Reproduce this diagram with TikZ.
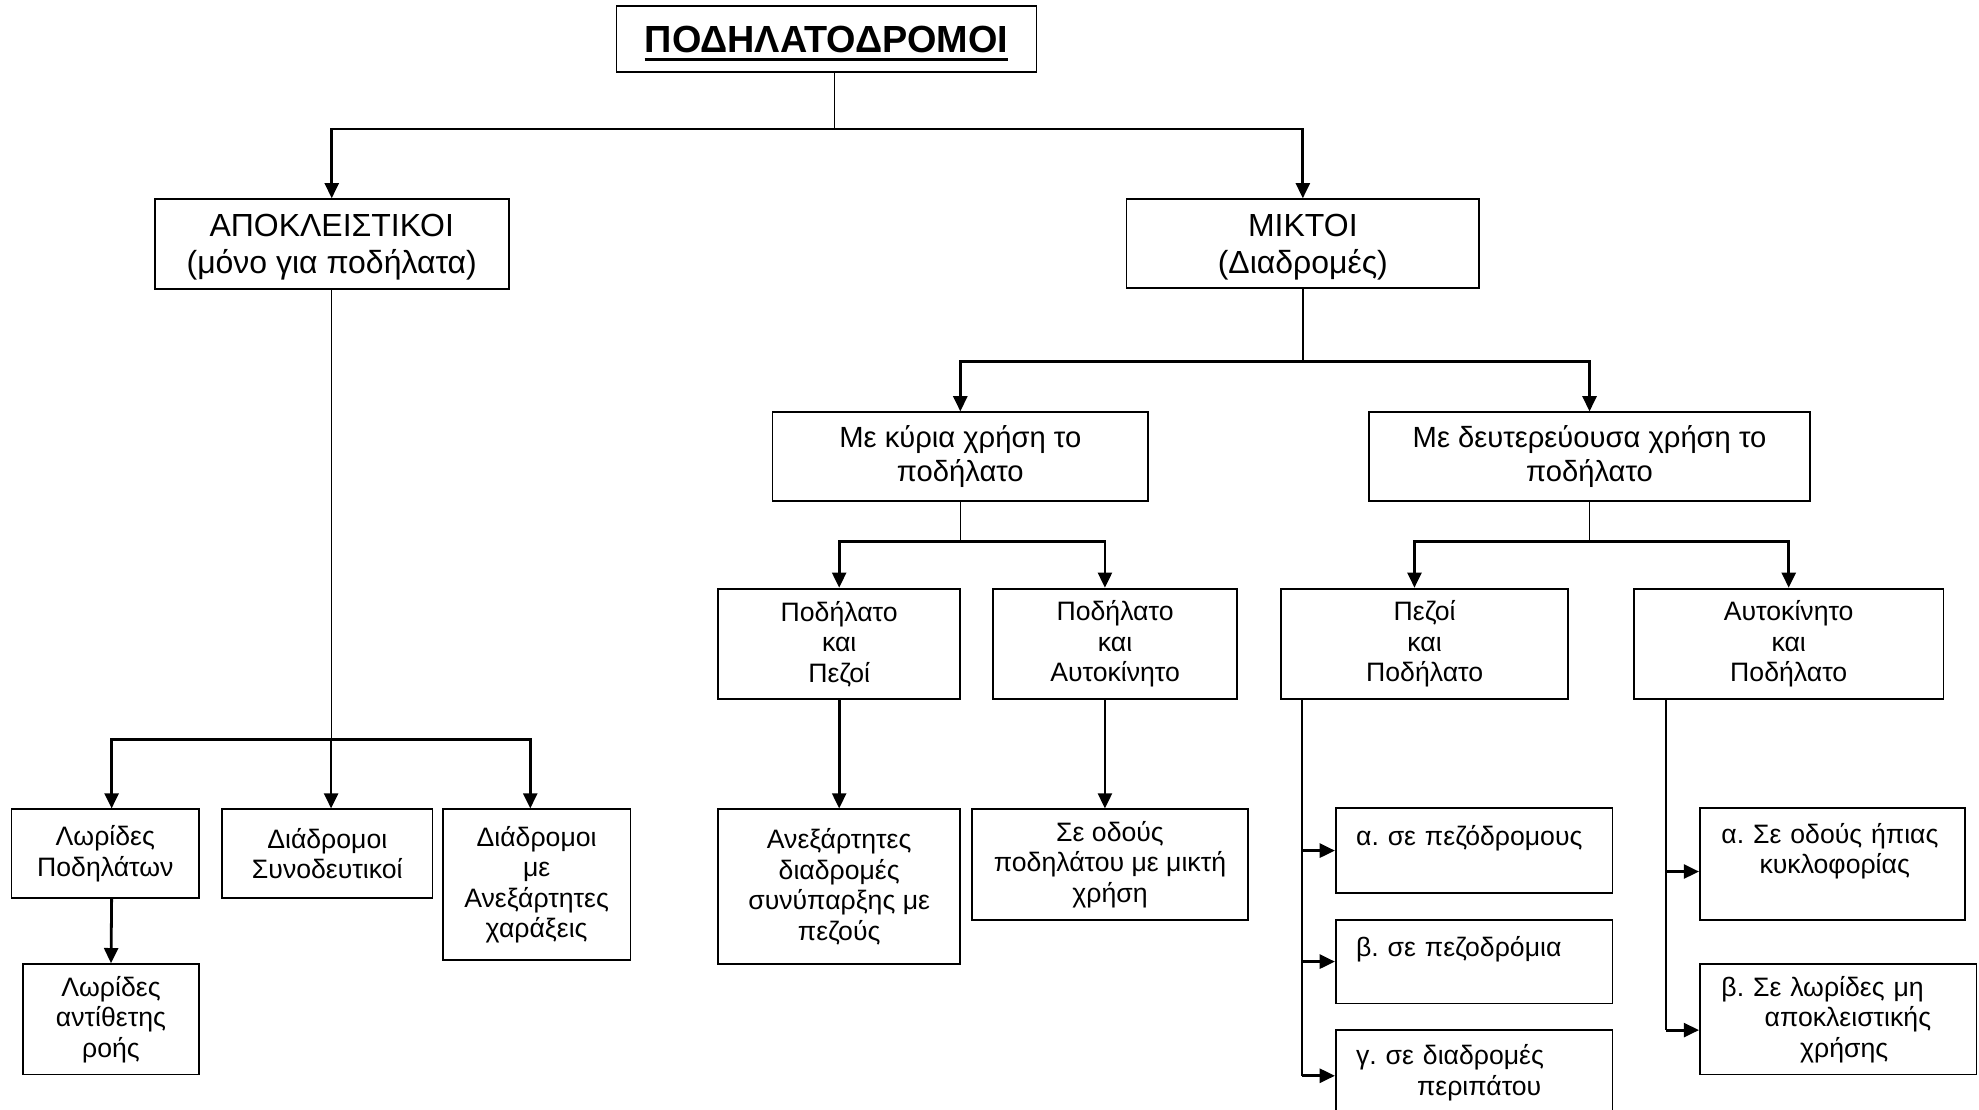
\documentclass[tikz,border=0pt]{standalone}
\usepackage{fontspec}
\setmainfont{Liberation Sans}
\usetikzlibrary{positioning}
\usetikzlibrary{arrows.meta}
\frenchspacing
% thick underline for the title
\newcommand{\ulthick}[1]{\leavevmode\setbox0=\hbox{#1}\rlap{\raisebox{-3.2pt}{\rule{\wd0}{1.2pt}}}\box0}

\begin{document}
\begin{tikzpicture}[x=0.5pt, y=-0.5pt,
    box/.style={draw, rectangle, line width=0.7pt, align=center, inner sep=2pt},
    smalltxt/.style={font=\fontsize{10.5}{12}\selectfont},
    midtxt/.style={font=\fontsize{11.5}{13.5}\selectfont},
    bigtxt/.style={font=\fontsize{12.6}{14.5}\selectfont, text depth=0pt},
    itembox/.style={box, smalltxt, align=left, inner xsep=8pt},
    stem/.style={line width=0.6pt},
    arr/.style={line width=1.1pt, -{Triangle[length=6pt,width=5.5pt]}}
    ]
    \useasboundingbox (0,0) rectangle (1560,874.2);

    % top of the tree
    \node[box, font=\fontsize{14.9}{17}\selectfont\bfseries, text depth=0pt,
        minimum width=165.5pt, minimum height=26pt] (title) at (651.5,31) {\ulthick{ΠΟΔΗΛΑΤΟΔΡΟΜΟΙ}};
    \node[box, bigtxt, minimum width=139.5pt, minimum height=35.5pt] (apok) at (261.5,192.5)
        {ΑΠΟΚΛΕΙΣΤΙΚΟΙ\\(μόνο για ποδήλατα)};
    \node[box, bigtxt, minimum width=139pt, minimum height=35pt] (mikt) at (1027,192)
        {ΜΙΚΤΟΙ\\(Διαδρομές)};

    % second level, mixed
    \node[box, midtxt, minimum width=148pt, minimum height=35pt] (kyr) at (757,360)
        {Με κύρια χρήση το\\ποδήλατο};
    \node[box, midtxt, minimum width=174pt, minimum height=35pt] (deut) at (1253,360)
        {Με δευτερεύουσα χρήση το\\ποδήλατο};

    \begin{scope}[every node/.style={box, smalltxt}]
        % left branch
        \node[minimum width=74pt, minimum height=35pt] (lwp) at (83,673) {Λωρίδες\\Ποδηλάτων};
        \node[minimum width=69.5pt, minimum height=43.5pt] (lar) at (87.5,803.5) {Λωρίδες\\αντίθετης\\ροής};
        \node[minimum width=83pt, minimum height=35pt] (dsyn) at (258,673) {Διάδρομοι\\Συνοδευτικοί};
        \node[minimum width=74pt, minimum height=59.5pt] (dane) at (423,697.5)
            {Διάδρομοι\\με\\Ανεξάρτητες\\χαράξεις};
        % third level
        \node[minimum width=95.5pt, minimum height=43.5pt] (pp) at (661.5,507.5) {Ποδήλατο\\και\\Πεζοί};
        \node[minimum width=96pt, minimum height=43.5pt] (pa) at (879,507.5) {Ποδήλατο\\και\\Αυτοκίνητο};
        \node[minimum width=113pt, minimum height=43.5pt] (pep) at (1123,507.5) {Πεζοί\\και\\Ποδήλατο};
        \node[minimum width=122pt, minimum height=43.5pt] (ap) at (1410,507.5) {Αυτοκίνητο\\και\\Ποδήλατο};
        \node[minimum width=95.5pt, minimum height=61pt] (ane) at (661.5,699)
            {Ανεξάρτητες\\διαδρομές\\συνύπαρξης με\\πεζούς};
        \node[minimum width=109pt, minimum height=43.5pt] (odp) at (875,681.5)
            {Σε οδούς\\ποδηλάτου με μικτή\\χρήση};
    \end{scope}

    % lists on the right
    \node[itembox, text width=93pt, minimum height=33.5pt] (pa1) at (1162,670.5) {α. σε πεζόδρομους\\\mbox{}};
    \node[itembox, text width=93pt, minimum height=33pt] (pb1) at (1162,758) {β. σε πεζοδρόμια\\\mbox{}};
    \node[itembox, text width=93pt, minimum height=33.5pt] (pc1) at (1162,845.5)
        {γ. σε διαδρομές\\\hspace*{24pt}περιπάτου};
    \node[itembox, text width=87.5pt, inner xsep=8.5pt, minimum height=44pt] (qa) at (1444.5,681)
        {α. Σε οδούς ήπιας\\\hspace*{15pt}κυκλοφορίας\\\mbox{}};
    \node[itembox, text width=92pt, inner xsep=8.5pt, minimum height=43.5pt] (qb) at (1449,803.5)
        {β. Σε λωρίδες μη\\\hspace*{17pt}αποκλειστικής\\\hspace*{31pt}χρήσης};

    % junctions
    \coordinate (j0) at ([xshift=3.25pt,yshift=-22pt]title.south);
    \coordinate (j1) at ([yshift=-177pt]apok.south);
    \coordinate (j2) at ([yshift=-28.5pt]mikt.south);
    \coordinate (j3) at ([yshift=-15.5pt]kyr.south);
    \coordinate (j4) at ([yshift=-15.5pt]deut.south);
    \coordinate (s1) at ([xshift=8.5pt]pep.south west);
    \coordinate (s2) at ([xshift=13pt]ap.south west);

    % connectors
    \draw[stem] ([xshift=3.25pt]title.south) -- (j0);
    \draw[arr] (j0) -| (apok.north);
    \draw[arr] (j0) -| (mikt.north);

    \draw[stem] (apok.south) -- (j1);
    \draw[arr] (j1) -| ([xshift=2.5pt]lwp.north);
    \draw[arr] (j1) -| ([xshift=1.5pt]dsyn.north);
    \draw[arr] (j1) -| ([xshift=-2.5pt]dane.north);
    \draw[arr] ([xshift=2.5pt]lwp.south) -- (lar.north);

    \draw[stem] (mikt.south) -- (j2);
    \draw[arr] (j2) -| (kyr.north);
    \draw[arr] (j2) -| (deut.north);

    \draw[stem] (kyr.south) -- (j3);
    \draw[arr] (j3) -| (pp.north);
    \draw[arr] (j3) -| ([xshift=-4pt]pa.north);
    \draw[stem] (deut.south) -- (j4);
    \draw[arr] (j4) -| ([xshift=-4pt]pep.north);
    \draw[arr] (j4) -| (ap.north);

    \draw[arr] (pp.south) -- (ane.north);
    \draw[arr] ([xshift=-4pt]pa.south) -- ([xshift=-4pt]pa.south |- odp.north);

    % side lists
    \draw[stem] (s1) -- ([yshift=-1.25pt]s1 |- pc1.west);
    \draw[arr] (s1 |- pa1.west) -- (pa1.west);
    \draw[arr] (s1 |- pb1.west) -- (pb1.west);
    \draw[arr] ([yshift=-1.25pt]s1 |- pc1.west) -- ([yshift=-1.25pt]pc1.west);
    \draw[stem] (s2) -- ([yshift=-4.25pt]s2 |- qb.west);
    \draw[arr] ([yshift=-3pt]s2 |- qa.west) -- ([yshift=-3pt]qa.west);
    \draw[arr] ([yshift=-4.25pt]s2 |- qb.west) -- ([yshift=-4.25pt]qb.west);
\end{tikzpicture}
\end{document}
